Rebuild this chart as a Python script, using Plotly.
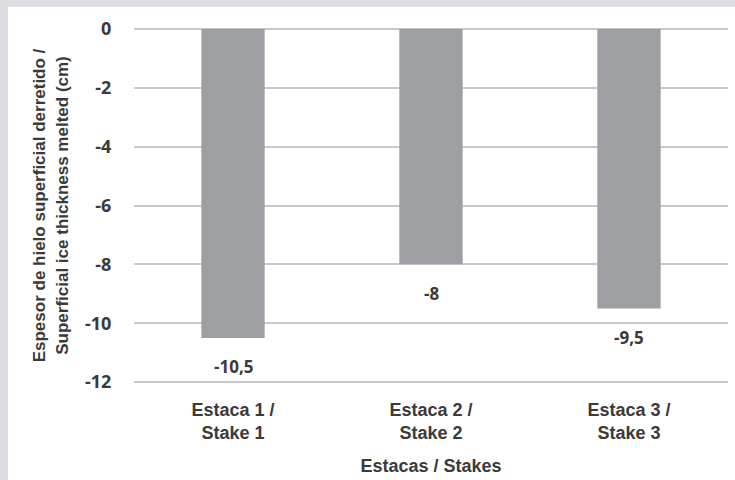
import plotly.graph_objects as go

categories = ["Estaca 1 /<br>Stake 1", "Estaca 2 /<br>Stake 2", "Estaca 3 /<br>Stake 3"]
values = [-10.5, -8, -9.5]
value_labels = ["-10,5", "-8", "-9,5"]
y_ticks = [0, -2, -4, -6, -8, -10, -12]

NARROW = "Liberation Sans Narrow, Arial Narrow, Liberation Sans, Arial, sans-serif"
NUM = "Open Sans, Lato, Liberation Sans, sans-serif"
TXT = "#3a3a3a"

fig = go.Figure()
fig.add_trace(go.Bar(
    x=categories, y=values, width=0.32,
    marker=dict(color="#9e9fa3", line=dict(width=0)),
    hoverinfo="skip",
))

for c, v, t in zip(categories, values, value_labels):
    fig.add_annotation(x=c, y=v, text="<b>%s</b>" % t, showarrow=False,
                       yanchor="middle", yshift=-29,
                       font=dict(family=NUM, size=17, color=TXT))

# white canvas with light gray frame at top and left
fig.add_shape(type="rect", xref="paper", yref="paper",
              x0=-0.212, x1=1.05, y0=-0.4, y1=1.053,
              fillcolor="white", line=dict(width=0), layer="below")

fig.update_layout(
    width=735, height=480,
    margin=dict(l=134, r=7, t=26, b=95),
    paper_bgcolor="#dcdde0",
    plot_bgcolor="rgba(0,0,0,0)",
    showlegend=False,
    xaxis=dict(
        tickfont=dict(family=NARROW, size=18, color=TXT),
        tickprefix="<b>", ticksuffix="</b>",
        showgrid=False, showline=False, zeroline=False,
        ticks="outside", ticklen=8, tickcolor="rgba(0,0,0,0)",
        title=dict(text="<b>Estacas / Stakes</b>", standoff=17,
                   font=dict(family=NARROW, size=18, color=TXT)),
    ),
    yaxis=dict(
        range=[-12.1, 0.1],
        tickvals=y_ticks,
        ticktext=["<b>%d</b>" % v for v in y_ticks],
        tickfont=dict(family=NUM, size=18, color=TXT),
        showgrid=True, gridcolor="#c8c8c8", gridwidth=2,
        zeroline=True, zerolinecolor="#c8c8c8", zerolinewidth=2,
        showline=False,
        ticks="outside", ticklen=18, tickcolor="rgba(0,0,0,0)",
        title=dict(text="<b>Espesor de hielo superficial derretido /<br>Superficial ice thickness melted (cm)</b>",
                   standoff=12,
                   font=dict(family=NARROW, size=17, color=TXT)),
    ),
)

fig.write_html("out.html")
